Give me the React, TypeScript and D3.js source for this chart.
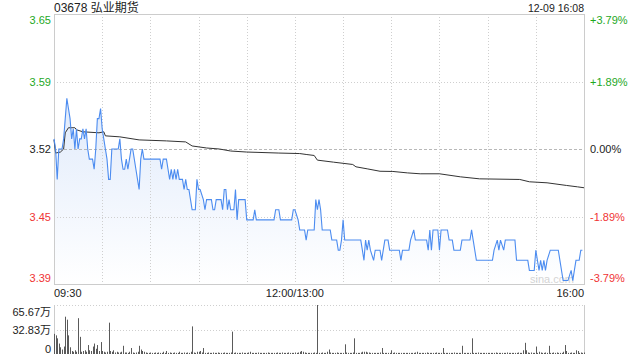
import React from 'react';
import * as d3 from 'd3';

const title = '03678 弘业期货';
const timestamp = '12-09 16:08';
const prevClose = 3.52;
const rangePct = 0.0379;
const priceTickLabels = ['3.65', '3.59', '3.52', '3.45', '3.39'];
const pctTickLabels = ['+3.79%', '+1.89%', '0.00%', '-1.89%', '-3.79%'];
const tickSigns = [1, 1, 0, -1, -1];
const timeTickLabels = ['09:30', '12:00/13:00', '16:00'];
const timeTickMinutes = [0, 150, 330];
const volTickLabels = ['65.67万', '32.83万', '0'];
const volMax = 65.67;
const totalMinutes = 330;

// price line key points: minute index (0 = 09:30, 150 = 12:00/13:00, 330 = 16:00) and price
const priceMinutes = [
  0, 1, 2, 3, 5, 6, 7, 8, 9, 10, 11, 12, 13, 14, 15, 16, 17, 18, 19, 20,
  21, 22, 24, 25, 26, 27, 28, 29, 30, 31, 32, 33, 34, 35, 36, 40, 41, 42, 43, 44,
  45, 46, 47, 48, 49, 50, 51, 52, 53, 54, 55, 56, 66, 67, 68, 70, 71, 72, 73, 74,
  75, 76, 77, 78, 80, 81, 82, 83, 84, 85, 86, 88, 89, 90, 91, 93, 94, 95, 98, 99,
  100, 101, 104, 105, 106, 107, 108, 109, 110, 112, 113, 114, 115, 119, 120, 124, 125, 126, 137, 138,
  140, 141, 148, 149, 150, 152, 153, 156, 157, 158, 162, 163, 164, 165, 166, 167, 172, 173, 176, 177,
  178, 179, 180, 181, 191, 192, 193, 194, 195, 196, 197, 199, 200, 203, 204, 205, 206, 208, 209, 215,
  216, 217, 221, 222, 224, 225, 232, 233, 234, 235, 236, 239, 240, 241, 245, 246, 248, 249, 253, 254,
  259, 260, 261, 263, 273, 274, 276, 277, 278, 280, 281, 287, 288, 295, 296, 299, 300, 302, 303, 304,
  305, 306, 307, 309, 314, 315, 317, 320, 322, 323, 324, 325, 327, 328, 329,
];
const prices = [
  3.53, 3.52, 3.49, 3.52, 3.52, 3.53, 3.55, 3.57, 3.56, 3.55, 3.53, 3.54, 3.52, 3.54, 3.52, 3.53, 3.53, 3.54, 3.53, 3.54,
  3.52, 3.51, 3.51, 3.50, 3.52, 3.55, 3.55, 3.56, 3.54, 3.53, 3.52, 3.51, 3.49, 3.49, 3.52, 3.52, 3.53, 3.51, 3.50, 3.50,
  3.51, 3.50, 3.51, 3.52, 3.52, 3.51, 3.50, 3.49, 3.48, 3.51, 3.52, 3.51, 3.51, 3.50, 3.51, 3.51, 3.50, 3.49, 3.50, 3.49,
  3.50, 3.49, 3.50, 3.49, 3.49, 3.48, 3.49, 3.48, 3.48, 3.47, 3.46, 3.46, 3.49, 3.48, 3.48, 3.47, 3.46, 3.47, 3.47, 3.46,
  3.46, 3.47, 3.47, 3.46, 3.48, 3.48, 3.46, 3.47, 3.46, 3.46, 3.48, 3.45, 3.47, 3.47, 3.45, 3.45, 3.46, 3.45, 3.45, 3.46,
  3.46, 3.45, 3.45, 3.46, 3.46, 3.45, 3.44, 3.44, 3.43, 3.44, 3.44, 3.47, 3.46, 3.47, 3.46, 3.44, 3.44, 3.43, 3.43, 3.42,
  3.42, 3.43, 3.45, 3.43, 3.43, 3.42, 3.41, 3.43, 3.42, 3.43, 3.42, 3.41, 3.42, 3.42, 3.41, 3.42, 3.43, 3.43, 3.42, 3.42,
  3.41, 3.42, 3.42, 3.43, 3.44, 3.43, 3.43, 3.42, 3.44, 3.42, 3.44, 3.44, 3.42, 3.44, 3.44, 3.43, 3.43, 3.42, 3.42, 3.43,
  3.43, 3.44, 3.43, 3.41, 3.41, 3.42, 3.43, 3.42, 3.43, 3.42, 3.43, 3.43, 3.41, 3.41, 3.40, 3.40, 3.42, 3.40, 3.41, 3.40,
  3.41, 3.40, 3.41, 3.42, 3.42, 3.41, 3.39, 3.39, 3.40, 3.39, 3.40, 3.41, 3.41, 3.42, 3.42,
];

// average price line key points
const avgMinutes = [
  0, 1, 4, 6, 7, 9, 13, 14, 18, 28, 31, 32, 41, 53, 70, 82, 86, 95, 103, 110,
  120, 140, 153, 157, 162, 164, 174, 186, 188, 195, 203, 211, 220, 228, 240, 253, 265, 290, 296, 307,
  319, 326, 330,
];
const avgPrices = [
  3.529, 3.516, 3.517, 3.520, 3.536, 3.541, 3.541, 3.539, 3.537, 3.536, 3.537, 3.533, 3.532, 3.529, 3.528, 3.527, 3.523, 3.521, 3.520, 3.518,
  3.517, 3.516, 3.5155, 3.5146, 3.5136, 3.509, 3.507, 3.5047, 3.5024, 3.5004, 3.498, 3.4978, 3.4964, 3.4955, 3.4955, 3.4925, 3.4905, 3.4899, 3.4876, 3.4866,
  3.484, 3.4826, 3.4817,
];

// per-minute volume (万)
const volumes = [
  27, 25, 21, 14, 9, 6, 10, 50, 46, 25,
  9, 4, 3, 5, 3, 48, 23, 3, 4, 5,
  3, 12, 5, 4, 10, 14, 7, 12, 4, 16,
  4, 3, 2, 3, 42, 4, 3, 5, 2, 3,
  2, 2, 3, 11, 2, 2, 1.5, 3, 8, 2,
  1.5, 2, 3, 11, 6, 4, 3, 2, 1.5, 1.5,
  2, 1.5, 1.5, 2, 1.5, 2, 1.5, 1.5, 3, 1.5,
  4, 1.5, 2, 1.5, 1.5, 2, 1.5, 1.5, 3, 1.5,
  1.5, 2, 1.5, 2, 1.5, 3, 37, 2, 1.5, 3,
  3, 4, 2, 8, 1.5, 1.5, 2, 1.5, 1.5, 2,
  1.5, 1.5, 2, 1.5, 1.5, 1.5, 2, 1.5, 1.5, 1.5,
  2, 30, 1.5, 2, 1.5, 1.5, 1.5, 2, 1.5, 1.5,
  1.5, 2, 3, 1.5, 1.5, 1.5, 1.5, 2, 1.5, 1.5,
  1.5, 1.5, 1.5, 2, 1.5, 1.5, 1.5, 1.5, 1.5, 2,
  1.5, 1.5, 2, 1.5, 1.5, 1.5, 2, 1.5, 1.5, 1.5,
  2, 1.5, 2, 3, 4, 3, 2, 1.5, 1.5, 1.5,
  1.5, 1.5, 2, 1.5, 65.67, 1.5, 1.5, 2, 1.5, 1.5,
  3, 6, 2, 1.5, 1.5, 1.5, 2, 1.5, 1.5, 1.5,
  1.5, 13, 2, 1.5, 1.5, 1.5, 2, 21, 1.5, 1.5,
  1.5, 2, 3, 3, 3, 2, 2, 1.5, 1.5, 1.5,
  1.5, 1.5, 1.5, 2, 8, 1.5, 1.5, 1.5, 1.5, 1.5,
  5, 1.5, 2, 1.5, 1.5, 1.5, 1.5, 1.5, 1.5, 1.5,
  1.5, 1.5, 1.5, 1.5, 1.5, 2, 3, 1.5, 1.5, 1.5,
  1.5, 1.5, 2, 1.5, 1.5, 1.5, 1.5, 1.5, 2, 1.5,
  1.5, 1.5, 8, 1.5, 1.5, 1.5, 1.5, 1.5, 1.5, 2,
  1.5, 1.5, 1.5, 1.5, 11, 1.5, 1.5, 1.5, 1.5, 1.5,
  21, 1.5, 1.5, 1.5, 2, 1.5, 1.5, 1.5, 1.5, 1.5,
  1.5, 1.5, 1.5, 1.5, 1.5, 2, 1.5, 1.5, 1.5, 1.5,
  1.5, 1.5, 2, 1.5, 1.5, 1.5, 1.5, 1.5, 1.5, 2,
  1.5, 1.5, 5, 15, 5, 2, 1.5, 2, 1.5, 1.5,
  10, 1.5, 3, 2, 1.5, 1.5, 2, 1.5, 11, 1.5,
  1.5, 2, 1.5, 2, 1.5, 1.5, 1.5, 3, 12, 4,
  1.5, 1.5, 2, 1.5, 1.5, 5, 4, 1.5, 2, 1.5,
  2,
];

const FONT = '"Liberation Sans", Arial, "Noto Sans CJK SC", sans-serif';
const GREEN = '#1ea81e';
const RED = '#f03434';

export default function App() {
  const W = 640;
  const H = 360;
  const L = 54;
  const R = 584;
  const T = 14;
  const B = 284;
  const vT = 305;
  const vB = 354;

  const x = d3.scaleLinear().domain([0, totalMinutes]).range([L, R]);
  const pMin = prevClose * (1 - rangePct);
  const pMax = prevClose * (1 + rangePct);
  const y = d3.scaleLinear().domain([pMin, pMax]).range([B, T]);
  const yv = d3.scaleLinear().domain([0, volMax]).range([vB, vT]);

  const gridVals = d3.range(5).map((i) => pMax - (i * (pMax - pMin)) / 4);
  const vGridMinutes = d3.range(30, totalMinutes, 30);

  const pts: [number, number][] = priceMinutes.map((m, i) => [m, prices[i]]);
  const avgPts: [number, number][] = avgMinutes.map((m, i) => [m, avgPrices[i]]);

  const line = d3
    .line<[number, number]>()
    .x((d) => x(d[0]))
    .y((d) => y(d[1]));
  const area = d3
    .area<[number, number]>()
    .x((d) => x(d[0]))
    .y0(B)
    .y1((d) => y(d[1]));

  const colorFor = (s: number) => (s > 0 ? GREEN : s < 0 ? RED : '#222');
  const labelY = (i: number, yy: number) => (i === 0 ? yy + 6 : i === 4 ? yy - 6 : yy);

  const volGridVals = [volMax, volMax / 2, 0];

  return (
    <svg
      width={W}
      height={H}
      style={{ position: 'absolute', left: 0, top: 0, background: '#fff' }}
      fontFamily={FONT}
    >
      <defs>
        <linearGradient id="pfill" x1="0" y1={T} x2="0" y2={B} gradientUnits="userSpaceOnUse">
          <stop offset="0" stopColor="#d2e1f9" />
          <stop offset="1" stopColor="#ffffff" />
        </linearGradient>
      </defs>

      {/* title */}
      <text x={L} y={12} fontSize={12} fill="#222">
        {title}
      </text>
      <text x={R} y={12} fontSize={10.5} fill="#222" textAnchor="end">
        {timestamp}
      </text>

      {/* price fill */}
      <path d={area(pts) || ''} fill="url(#pfill)" />

      {/* horizontal grid */}
      {gridVals.map((v, i) =>
        i === 0 || i === 4 ? null : (
          <line
            key={'hg' + i}
            x1={L}
            x2={R}
            y1={Math.round(y(v)) + 0.5}
            y2={Math.round(y(v)) + 0.5}
            stroke={i === 2 ? '#b8b8b8' : '#cfcfcf'}
            strokeDasharray={i === 2 ? '3,2' : '1,2'}
          />
        )
      )}
      {/* vertical grid */}
      {vGridMinutes.map((m) => (
        <line
          key={'vg' + m}
          x1={Math.round(x(m)) + 0.5}
          x2={Math.round(x(m)) + 0.5}
          y1={T}
          y2={B}
          stroke="#cfcfcf"
          strokeDasharray="1,2"
        />
      ))}
      {/* frame */}
      <rect x={L + 0.5} y={T + 0.5} width={R - L} height={B - T} fill="none" stroke="#cccccc" />

      {/* watermark */}
      <text x={552} y={283} fontSize={11} fill="#d4d4d4" textAnchor="middle">
        sina.com
      </text>

      {/* avg line */}
      <path d={line(avgPts) || ''} fill="none" stroke="#333" strokeWidth={1} />
      {/* price line */}
      <path d={line(pts) || ''} fill="none" stroke="#4c8cf0" strokeWidth={1.1} />

      {/* price axis labels */}
      {gridVals.map((v, i) => (
        <text
          key={'pl' + i}
          x={51}
          y={labelY(i, y(v))}
          fontSize={11}
          textAnchor="end"
          dominantBaseline="central"
          fill={colorFor(tickSigns[i])}
        >
          {priceTickLabels[i]}
        </text>
      ))}
      {gridVals.map((v, i) => (
        <text
          key={'pr' + i}
          x={590}
          y={labelY(i, y(v))}
          fontSize={11}
          textAnchor="start"
          dominantBaseline="central"
          fill={colorFor(tickSigns[i])}
        >
          {pctTickLabels[i]}
        </text>
      ))}

      {/* time labels */}
      {timeTickMinutes.map((m, i) => (
        <text
          key={'tl' + i}
          x={x(m)}
          y={297}
          fontSize={11}
          fill="#222"
          textAnchor={i === 0 ? 'start' : i === timeTickMinutes.length - 1 ? 'end' : 'middle'}
        >
          {timeTickLabels[i]}
        </text>
      ))}

      {/* volume panel */}
      {volGridVals.slice(0, 2).map((v, i) => (
        <line
          key={'vgl' + i}
          x1={L}
          x2={R}
          y1={Math.round(yv(v)) + 0.5}
          y2={Math.round(yv(v)) + 0.5}
          stroke="#cfcfcf"
          strokeDasharray="1,2"
        />
      ))}
      <line x1={L + 0.5} x2={L + 0.5} y1={vT} y2={vB} stroke="#cccccc" />
      <line x1={R + 0.5} x2={R + 0.5} y1={vT} y2={vB} stroke="#cccccc" />
      {volumes.map((v, i) => (
        <rect
          key={'vb' + i}
          x={Math.round(x(i))}
          y={yv(v)}
          width={1}
          height={vB - yv(v)}
          fill="#5a5a5a"
        />
      ))}
      {volGridVals.map((v, i) => (
        <text
          key={'vl' + i}
          x={51}
          y={i === 0 ? yv(v) + 7 : i === 2 ? yv(v) - 5 : yv(v)}
          fontSize={11}
          textAnchor="end"
          dominantBaseline="central"
          fill="#222"
        >
          {volTickLabels[i]}
        </text>
      ))}
    </svg>
  );
}
